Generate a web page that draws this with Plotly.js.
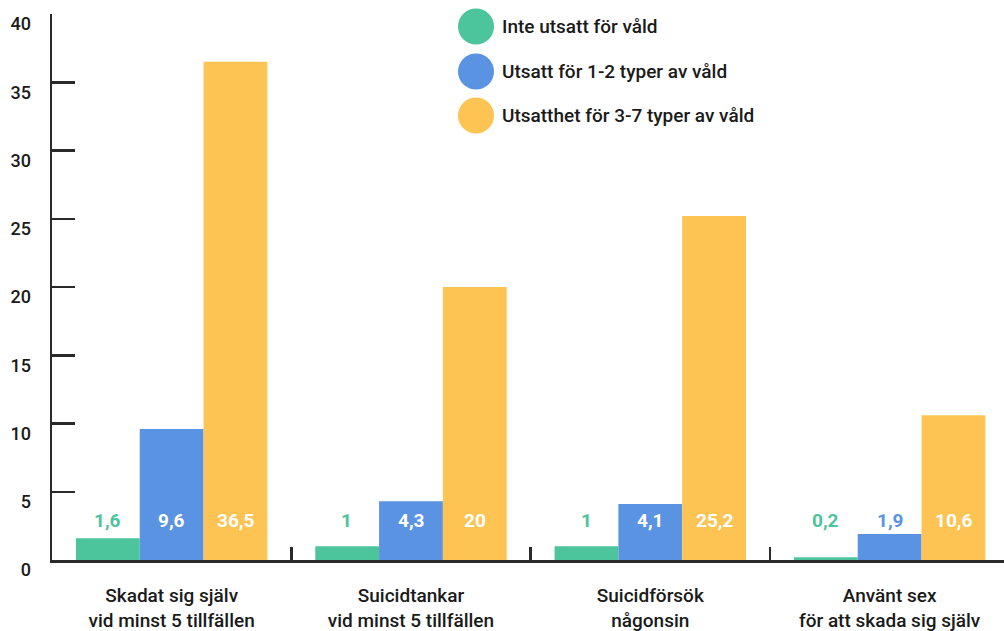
<!DOCTYPE html>
<html>
<head>
<meta charset="utf-8">
<script src="https://cdn.plot.ly/plotly-3.0.1.min.js"></script>
<style>
html,body{margin:0;padding:0;background:#fff;}
#chart{width:1004px;height:631px;}
</style>
</head>
<body>
<div id="chart"></div>
<script>
var categories = ["Skadat sig själv<br>vid minst 5 tillfällen", "Suicidtankar<br>vid minst 5 tillfällen", "Suicidförsök<br>någonsin", "Använt sex<br>för att skada sig själv"];
var seriesNames = ["Inte utsatt för våld", "Utsatt för 1-2 typer av våld", "Utsatthet för 3-7 typer av våld"];
var notExposed = [1.6, 1, 1, 0.2];
var exposed12 = [9.6, 4.3, 4.1, 1.9];
var exposed37 = [36.5, 20, 25.2, 10.6];
var yTicks = [0, 5, 10, 15, 20, 25, 30, 35, 40];

var colors = ["#4cc49c", "#5b93e3", "#fec453"];
var series = [notExposed, exposed12, exposed37];
var FONT = "Roboto, 'Open Sans', sans-serif";

var traces = series.map(function(vals, i){
  return {type:'bar', x:categories, y:vals, name:seriesNames[i],
    marker:{color:colors[i]}, hoverinfo:'none', showlegend:false};
});

var barPx = 64;
var annotations = [];
series.forEach(function(vals, i){
  vals.forEach(function(v, j){
    var inside = v > 3.6;
    annotations.push({x:categories[j], y:2.9, xref:'x', yref:'y',
      text:'<b>'+String(v).replace('.', ',')+'</b>', showarrow:false,
      xshift:(i-1)*barPx,
      font:{family:FONT, size:19, color: inside ? '#ffffff' : colors[i]}});
  });
});

var shapes = [];
var legY = [26.5, 71.5, 115.5];
seriesNames.forEach(function(n, i){
  var yPaper = 1 - (legY[i]-14)/546;
  var xPaper = (476-52)/952;
  shapes.push({type:'circle', xref:'paper', yref:'paper', xsizemode:'pixel', ysizemode:'pixel',
    xanchor:xPaper, yanchor:yPaper, x0:-18, x1:18, y0:-18, y1:18,
    fillcolor:colors[i], line:{width:0}});
  annotations.push({xref:'paper', yref:'paper', x:(500-52)/952, y:yPaper, xanchor:'left', yanchor:'middle',
    text:n, showarrow:false, font:{family:FONT, size:19, color:'#1a1a1a', weight:500}});
});

var layout = {
  width:1004, height:631,
  margin:{l:52, r:0, t:14, b:71, pad:0},
  paper_bgcolor:'#fff', plot_bgcolor:'#fff',
  barmode:'group', bargap:0.2, bargroupgap:0,
  showlegend:false,
  font:{family:FONT, color:'#1a1a1a'},
  xaxis:{type:'category', range:[-0.5, 3.478], showgrid:false, zeroline:false,
    showline:true, linecolor:'#2a2a2a', linewidth:2.5,
    ticks:'inside', tickson:'boundaries', ticklen:13, tickwidth:2.5, tickcolor:'#2a2a2a',
    tickfont:{family:FONT, size:19, color:'#1a1a1a', weight:500}, ticklabelstandoff:17},
  yaxis:{range:[0, 40], tickvals:yTicks, ticktext:yTicks.map(String), showgrid:false, zeroline:false,
    showline:true, linecolor:'#2a2a2a', linewidth:2.5,
    ticks:'inside', ticklen:23, tickwidth:2.5, tickcolor:'#2a2a2a',
    tickfont:{family:FONT, size:18, color:'#1a1a1a', weight:500},
    ticklabelshift:10, ticklabelstandoff:15},
  annotations:annotations, shapes:shapes
};

Plotly.newPlot('chart', traces, layout, {displayModeBar:false, staticPlot:true});
</script>
</body>
</html>
